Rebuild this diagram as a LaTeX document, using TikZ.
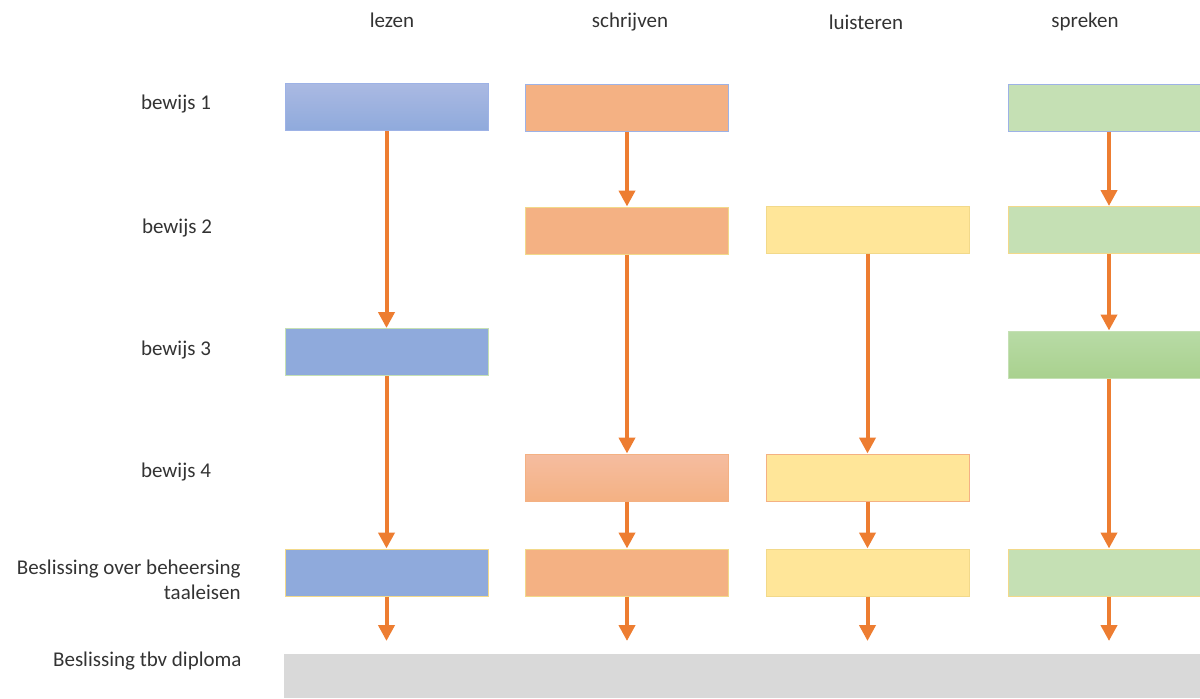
\documentclass[tikz,border=0pt]{standalone}
\usepackage{fontspec}
\setmainfont{Carlito}
\usetikzlibrary{arrows.meta}
\definecolor{arr}{HTML}{ED7D31}
\definecolor{bl}{HTML}{8FAADC}
\definecolor{blt}{HTML}{AAB9E2}
\definecolor{orl}{HTML}{F4B183}
\definecolor{ort}{HTML}{F5BDA0}
\definecolor{yl}{HTML}{FFE699}
\definecolor{gr}{HTML}{C5E0B4}
\definecolor{grd}{HTML}{A9D18E}
\definecolor{grt}{HTML}{B8DBA6}
\definecolor{gy}{HTML}{D9D9D9}
\definecolor{txt}{HTML}{333333}
\definecolor{bbord}{HTML}{9DB2E6}
\definecolor{ybord}{HTML}{F2D98A}
\begin{document}
\begin{tikzpicture}[x=0.5pt,y=-0.5pt,
  box/.style={minimum width=101.5pt,minimum height=23.5pt,inner sep=0pt,line width=0.5pt},
  lbl/.style={font=\fontsize{10.5}{12.5}\selectfont,text=txt,inner sep=0pt},
  flow/.style={draw=arr,line width=2pt,-{Triangle[length=8pt,width=8pt]}}]
\useasboundingbox (0,0) rectangle (1200,698);
% column headers
\node[lbl] (h1) at (392,20) {lezen};
\node[lbl] (h2) at (630,22) {schrijven};
\node[lbl] (h3) at (866,22) {luisteren};
\node[lbl] (h4) at (1085,22) {spreken};
% row labels
\node[lbl] (r1) at (176,104) {bewijs 1};
\node[lbl] (r2) at (177,228) {bewijs 2};
\node[lbl] (r3) at (176,350) {bewijs 3};
\node[lbl] (r4) at (176,472) {bewijs 4};
\node[lbl,anchor=north east,align=right] (r5) at (241,560) {Beslissing over beheersing\\taaleisen};
\node[lbl,anchor=east] (r6) at (242,661) {Beslissing tbv diploma};
% column 1
\node[box,top color=blt,bottom color=bl,draw=bbord] (a1) at (386.5,107) {};
\node[box,fill=bl,draw=gr] (a3) at (386.5,352) {};
\node[box,fill=bl,draw=ybord] (a5) at (386.5,572.5) {};
% column 2
\node[box,fill=orl,draw=bbord] (b1) at (627,107.5) {};
\node[box,fill=orl,draw=ybord] (b2) at (627,230.5) {};
\node[box,top color=ort,bottom color=orl,draw=orl] (b4) at (627,477.5) {};
\node[box,fill=orl,draw=ybord] (b5) at (627,572.5) {};
% column 3
\node[box,fill=yl,draw=ybord] (c2) at (867.5,229.5) {};
\node[box,fill=yl,draw=orl] (c4) at (867.5,477.5) {};
\node[box,fill=yl,draw=ybord] (c5) at (867.5,572.5) {};
% column 4
\node[box,fill=gr,draw=bbord,anchor=west] (d1) at (1008,107.5) {};
\node[box,fill=gr,draw=ybord,anchor=west] (d2) at (1008,230) {};
\node[box,top color=grt,bottom color=grd,draw=gr,anchor=west] (d3) at (1008,354.5) {};
\node[box,fill=gr,draw=ybord,anchor=west] (d5) at (1008,572.5) {};
% grey bar
\fill[gy] (284,654) rectangle (1200,698);
\coordinate (e1) at (386.5,641);
\coordinate (e2) at (627,641);
\coordinate (e3) at (867.5,641);
\coordinate (e4) at (1109,641);
% arrows
\draw[flow] (a1.south) -- (a3.north);
\draw[flow] (a3.south) -- (a5.north);
\draw[flow] (a5.south) -- (e1);
\draw[flow] (b1.south) -- (b2.north);
\draw[flow] (b2.south) -- (b4.north);
\draw[flow] (b4.south) -- (b5.north);
\draw[flow] (b5.south) -- (e2);
\draw[flow] (c2.south) -- (c4.north);
\draw[flow] (c4.south) -- (c5.north);
\draw[flow] (c5.south) -- (e3);
\draw[flow] (d1.south -| e4) -- (d2.north -| e4);
\draw[flow] (d2.south -| e4) -- (d3.north -| e4);
\draw[flow] (d3.south -| e4) -- (d5.north -| e4);
\draw[flow] (d5.south -| e4) -- (e4);
\end{tikzpicture}
\end{document}
